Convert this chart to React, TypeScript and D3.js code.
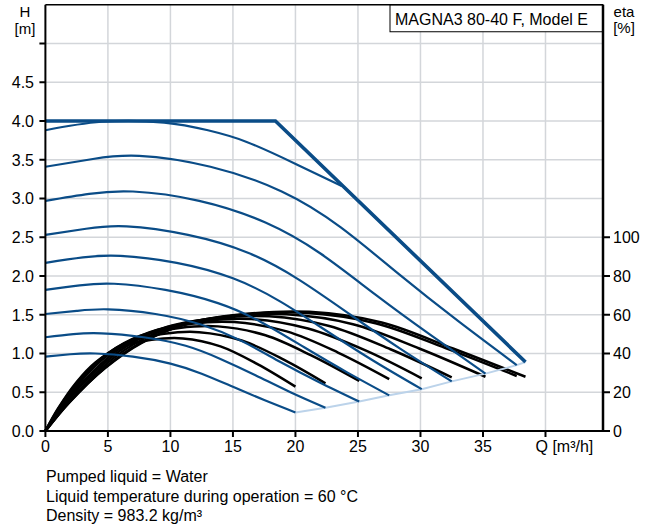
import * as d3 from "d3";

// axis ticks
const qTicks = [0, 5, 10, 15, 20, 25, 30, 35, 40];
const qLabels = ["0", "5", "10", "15", "20", "25", "30", "35"];
const hTicks = [0, 0.5, 1, 1.5, 2, 2.5, 3, 3.5, 4, 4.5, 5];
const hLabels = ["0.0", "0.5", "1.0", "1.5", "2.0", "2.5", "3.0", "3.5", "4.0", "4.5"];
const etaTicks = [0, 20, 40, 60, 80, 100];

// max curve (H vs Q)
const maxCurve = [[0, 4.0], [18.4, 4.0], [38.4, 0.89]];

// speed curves, highest first (Q m3/h, H m)
const speed1 = [[0, 3.88], [4.5, 3.99], [9.5, 3.98], [13.0, 3.88], [16.1, 3.73], [20.1, 3.44], [23.7, 3.16]];
const speed2 = [[0, 3.41], [3.8, 3.51], [7.5, 3.55], [13.2, 3.41], [18.9, 3.09], [23.6, 2.63], [28.3, 2.02], [33.0, 1.42], [37.7, 0.85]];
const speed3 = [[0, 2.97], [3.5, 3.06], [7.0, 3.09], [12.3, 2.97], [17.6, 2.69], [22.0, 2.29], [26.4, 1.76], [30.8, 1.24], [35.2, 0.74]];
const speed4 = [[0, 2.53], [3.25, 2.61], [6.5, 2.64], [11.4, 2.53], [16.2, 2.3], [20.3, 1.95], [24.4, 1.5], [28.4, 1.06], [32.5, 0.64]];
const speed5 = [[0, 2.17], [3.0, 2.24], [6.0, 2.26], [10.5, 2.17], [15.0, 1.97], [18.8, 1.67], [22.5, 1.29], [26.3, 0.9], [30.1, 0.54]];
const speed6 = [[0, 1.82], [2.75, 1.88], [5.5, 1.9], [9.6, 1.82], [13.8, 1.65], [17.2, 1.41], [20.7, 1.08], [24.1, 0.76], [27.5, 0.46]];
const speed7 = [[0, 1.51], [2.5, 1.55], [5.0, 1.57], [8.8, 1.51], [12.5, 1.37], [15.7, 1.16], [18.8, 0.89], [21.9, 0.63], [25.1, 0.38]];
const speed8 = [[0, 1.21], [2.24, 1.25], [4.49, 1.26], [7.85, 1.21], [11.22, 1.1], [14.0, 0.93], [16.8, 0.72], [19.6, 0.5], [22.4, 0.3]];
const speed9 = [[0, 0.96], [2, 0.99], [4, 1.0], [7, 0.96], [10, 0.87], [12.5, 0.74], [15, 0.57], [17.5, 0.4], [20, 0.24]];

// end-of-curve line
const minCurve = [[20, 0.24], [22.4, 0.3], [25.1, 0.38], [27.5, 0.46], [30.1, 0.54], [32.5, 0.64], [35.2, 0.74], [37.7, 0.85], [38.4, 0.89]];

// efficiency curves (Q m3/h, eta %)
const eta1 = [[0, 0], [1.9, 14.8], [4.8, 32.6], [7.7, 45.5], [11.5, 55.7], [16.3, 60.6], [21.1, 61.5], [26.9, 56.0], [32.6, 42.6], [38.4, 28.0]];
const eta2 = [[0, 0], [1.9, 14.6], [4.7, 32.3], [7.5, 45.1], [11.3, 55.2], [16.0, 60.1], [20.7, 61.0], [26.4, 55.6], [32.0, 42.8], [37.7, 28.4]];
const eta3 = [[0, 0], [1.8, 14.4], [4.4, 31.9], [7.0, 44.5], [10.5, 54.5], [14.9, 59.3], [19.3, 60.2], [24.6, 55.1], [29.9, 42.6], [35.2, 28.0]];
const eta4 = [[0, 0], [1.6, 14.2], [4.1, 31.4], [6.5, 43.8], [9.7, 53.6], [13.8, 58.3], [17.9, 59.2], [22.7, 54.2], [27.6, 42.2], [32.5, 27.7]];
const eta5 = [[0, 0], [1.5, 13.9], [3.8, 30.6], [6.0, 42.8], [9.0, 52.3], [12.8, 56.9], [16.5, 57.8], [21.0, 52.9], [25.6, 41.6], [30.1, 27.2]];
const eta6 = [[0, 0], [1.4, 13.5], [3.4, 29.8], [5.5, 41.6], [8.3, 50.9], [11.7, 55.4], [15.1, 56.2], [19.3, 51.4], [23.4, 40.5], [27.5, 26.8]];
const eta7 = [[0, 0], [1.3, 13.0], [3.1, 28.6], [5.0, 40.0], [7.5, 48.9], [10.7, 53.2], [13.8, 54.0], [17.6, 49.4], [21.3, 38.9], [25.1, 25.8]];
const eta8 = [[0, 0], [1.1, 12.2], [2.8, 27.0], [4.5, 37.7], [6.7, 46.2], [9.5, 50.2], [12.3, 51.0], [15.7, 46.7], [19.1, 36.7], [22.4, 24.6]];
const eta9 = [[0, 0], [1, 11.5], [2.5, 25.3], [4, 35.4], [6, 43.3], [8.5, 47.1], [11, 47.8], [14, 43.7], [17, 34.4], [20, 22.9]];

const speedCurves = [speed1, speed2, speed3, speed4, speed5, speed6, speed7, speed8, speed9];
const etaCurves = [eta1, eta2, eta3, eta4, eta5, eta6, eta7, eta8, eta9];

const notes = [
  "Pumped liquid = Water",
  "Liquid temperature during operation = 60 °C",
  "Density = 983.2 kg/m³",
];

const BLUE = "#0a4c87";
const GRID = "#d3d6da";
const FONT = "'Liberation Sans', Arial, Helvetica, sans-serif";

export default function App() {
  const left = 45.4, right = 603, top = 4.75, bottom = 431;

  const x = d3.scaleLinear().domain([0, 44.6]).range([left, right]);
  const y = d3.scaleLinear().domain([0, 5.5]).range([bottom, top]);
  // eta shares the grid: 20 % per 0.5 m
  const yEta = d3.scaleLinear().domain([0, 220]).range([bottom, top]);

  const hLine = d3.line<number[]>()
    .x(d => x(d[0]))
    .y(d => y(d[1]))
    .curve(d3.curveNatural);
  const straight = d3.line<number[]>().x(d => x(d[0])).y(d => y(d[1]));
  const etaLine = d3.line<number[]>()
    .x(d => x(d[0]))
    .y(d => yEta(d[1]))
    .curve(d3.curveCatmullRom.alpha(0.5));

  return (
    <svg width={650} height={529} style={{ position: "absolute", left: 0, top: 0, background: "#fff" }}
      fontFamily={FONT} fontSize={16}>
      {/* grid */}
      {qTicks.filter(q => q > 0).map(q => (
        <line key={"gx" + q} x1={x(q)} x2={x(q)} y1={top} y2={bottom} stroke={GRID} strokeWidth={1.5} />
      ))}
      {hTicks.filter(h => h > 0).map(h => (
        <line key={"gy" + h} x1={left} x2={right} y1={y(h)} y2={y(h)} stroke={GRID} strokeWidth={1.5} />
      ))}

      {/* efficiency curves */}
      {etaCurves.map((c, i) => (
        <path key={"e" + i} d={etaLine(c) || ""} fill="none" stroke="#000" strokeWidth={2.5} />
      ))}

      {/* end line */}
      <path d={straight(minCurve) || ""} fill="none" stroke="#bcd3ea" strokeWidth={2} />

      {/* speed curves */}
      {speedCurves.map((c, i) => (
        <path key={"s" + i} d={hLine(c) || ""} fill="none" stroke={BLUE} strokeWidth={2.2} />
      ))}
      <path d={straight(maxCurve) || ""} fill="none" stroke={BLUE} strokeWidth={3.6} strokeLinejoin="miter" />

      {/* title box */}
      <rect x={390} y={top} width={right - 390} height={27} fill="#fff" stroke="#000" strokeWidth={1} />
      <text x={395} y={24.5}>MAGNA3 80-40 F, Model E</text>

      {/* frame */}
      <line x1={left} x2={right} y1={top} y2={top} stroke="#000" strokeWidth={1.5} />
      <line x1={left} x2={left} y1={top} y2={bottom} stroke="#000" strokeWidth={2} />
      <line x1={right} x2={right} y1={top} y2={bottom} stroke="#000" strokeWidth={2.5} />
      <line x1={left} x2={right} y1={bottom} y2={bottom} stroke="#000" strokeWidth={2} />

      {/* left axis */}
      {hTicks.map(h => (
        <line key={"th" + h} x1={left - 6} x2={left} y1={y(h)} y2={y(h)} stroke="#000" strokeWidth={2} />
      ))}
      {hLabels.map((l, i) => (
        <text key={"lh" + l} x={34} y={y(hTicks[i])} dy="0.36em" textAnchor="end">{l}</text>
      ))}
      <text x={25} y={17} textAnchor="middle" fontSize={15}>H</text>
      <text x={25} y={34} textAnchor="middle" fontSize={15}>[m]</text>

      {/* right axis */}
      {etaTicks.map(e => (
        <line key={"te" + e} x1={right} x2={right + 7} y1={yEta(e)} y2={yEta(e)} stroke="#000" strokeWidth={2} />
      ))}
      {etaTicks.map(e => (
        <text key={"le" + e} x={613} y={yEta(e)} dy="0.36em">{e}</text>
      ))}
      <text x={624} y={17} textAnchor="middle" fontSize={15}>eta</text>
      <text x={624} y={33} textAnchor="middle" fontSize={15}>[%]</text>

      {/* bottom axis */}
      {qTicks.map(q => (
        <line key={"tq" + q} x1={x(q)} x2={x(q)} y1={bottom} y2={bottom + 6} stroke="#000" strokeWidth={2} />
      ))}
      {qLabels.map((l, i) => (
        <text key={"lq" + l} x={x(qTicks[i])} y={bottom + 21} textAnchor="middle">{l}</text>
      ))}
      <text x={x(40) - 10} y={bottom + 21}>Q [m³/h]</text>

      {/* notes */}
      {notes.map((n, i) => (
        <text key={"n" + i} x={46} y={482 + i * 19.7}>{n}</text>
      ))}
    </svg>
  );
}
